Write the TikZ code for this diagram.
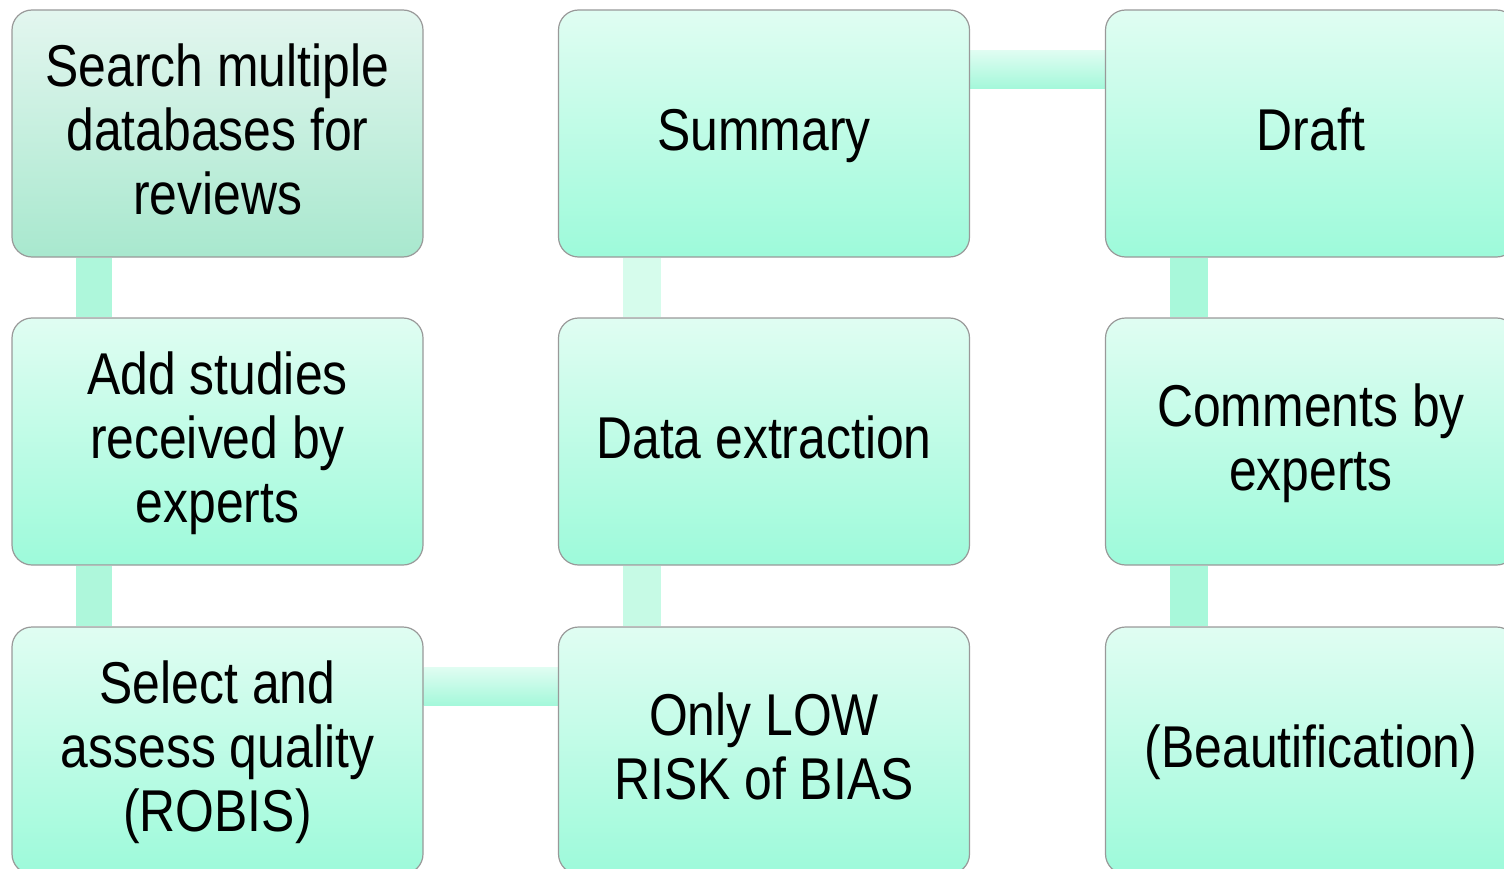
\documentclass[tikz,border=0pt]{standalone}
\usepackage{fontspec}
\setmainfont{Liberation Sans}[FakeStretch=0.845]
\usetikzlibrary{backgrounds}
\newcommand{\upstrut}{\rule{0pt}{54pt}}
\newcommand{\downstrut}{\rule[-20pt]{0pt}{0pt}}
\tikzset{
  stepbox/.style={rectangle, rounded corners=20pt, draw=black!40, line width=1.2pt,
    minimum width=411pt, minimum height=247pt, inner sep=0pt, align=center,
    font=\fontsize{59}{64}\selectfont, top color=boxtop, bottom color=boxbot},
  firstbox/.style={stepbox, top color=firsttop, bottom color=firstbot},
  vbar/.style={fill=#1},
  hbar/.style={top color=bartop, bottom color=barbot}
}
\definecolor{boxtop}{HTML}{E0FDF2}
\definecolor{boxbot}{HTML}{9DFADA}
\definecolor{firsttop}{HTML}{E3F6EF}
\definecolor{firstbot}{HTML}{A8E8CE}
\definecolor{bartop}{HTML}{E0FDF2}
\definecolor{barbot}{HTML}{A4F8DA}
\definecolor{barA}{HTML}{AEF7DB}
\definecolor{barB}{HTML}{D6FCEC}
\definecolor{barC}{HTML}{C6FAE5}
\definecolor{barD}{HTML}{A8F8DA}
\begin{document}
\begin{tikzpicture}[x=1pt,y=-1pt]
\clip (0,0) rectangle (1504,869);
\node[firstbox] (a) at (217.5,133.5) {\upstrut Search multiple\\databases for\\reviews\downstrut};
\node[stepbox] (b) at (217.5,441.5) {\upstrut Add studies\\received by\\experts\downstrut};
\node[stepbox] (c) at (217.5,750.5) {\upstrut Select and\\assess quality\\(ROBIS)\downstrut};
\node[stepbox] (d) at (764,750.5) {\upstrut Only LOW\\RISK of BIAS\downstrut};
\node[stepbox] (e) at (764,441.5) {\upstrut Data extraction\downstrut};
\node[stepbox] (f) at (764,133.5) {\upstrut Summary\downstrut};
\node[stepbox] (g) at (1311,133.5) {\upstrut Draft\downstrut};
\node[stepbox] (h) at (1311,441.5) {\upstrut Comments by\\experts\downstrut};
\node[stepbox] (i) at (1311,750.5) {\upstrut (Beautification)\downstrut};
\begin{scope}[on background layer]
\fill[vbar=barA] ([xshift=65pt]a.south west) rectangle ([xshift=101pt]b.north west);
\fill[vbar=barA] ([xshift=65pt]b.south west) rectangle ([xshift=101pt]c.north west);
\path[hbar] ([yshift=-41pt]c.north east) rectangle ([yshift=-79pt]d.north west);
\fill[vbar=barC] ([xshift=65pt]e.south west) rectangle ([xshift=103pt]d.north west);
\fill[vbar=barB] ([xshift=65pt]f.south west) rectangle ([xshift=103pt]e.north west);
\path[hbar] ([yshift=-41pt]f.north east) rectangle ([yshift=-79pt]g.north west);
\fill[vbar=barD] ([xshift=65pt]g.south west) rectangle ([xshift=103pt]h.north west);
\fill[vbar=barD] ([xshift=65pt]h.south west) rectangle ([xshift=103pt]i.north west);
\end{scope}
\end{tikzpicture}
\end{document}
